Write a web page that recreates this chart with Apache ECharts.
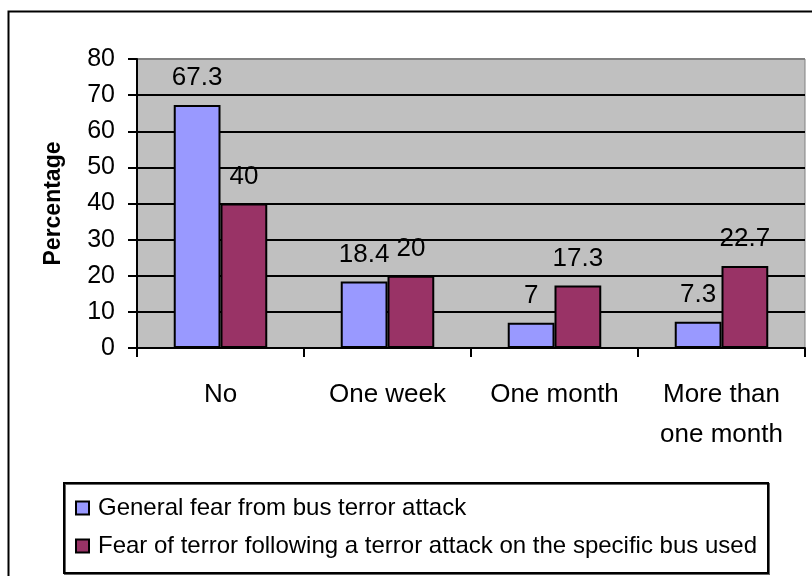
<!DOCTYPE html>
<html>
<head>
<meta charset="utf-8">
<script src="https://cdn.jsdelivr.net/npm/echarts@6/dist/echarts.min.js"></script>
<style>
  html, body { margin: 0; padding: 0; background: #fff; }
  #chart { width: 812px; height: 576px; }
</style>
</head>
<body>
<div id="chart"></div>
<script>
// Time after the attack during which fear persisted
const categories = ['No', 'One week', 'One month', 'More than\none month'];
const seriesNames = [
  'General fear from bus terror attack',
  'Fear of terror following a terror attack on the specific bus used'
];
const generalFear = [67.3, 18.4, 7, 7.3];
const specificBusFear = [40, 20, 17.3, 22.7];
const yTicks = [0, 10, 20, 30, 40, 50, 60, 70, 80];

const FONT = '"Liberation Sans", Arial, sans-serif';
const chart = echarts.init(document.getElementById('chart'), null, { renderer: 'canvas' });

const labelStyle = {
  show: true,
  position: 'top',
  distance: 14,
  color: '#000',
  fontFamily: FONT,
  fontSize: 26
};

chart.setOption({
  animation: false,
  backgroundColor: '#fff',
  grid: {
    left: 137, right: 7, top: 59, bottom: 228,
    show: true,
    backgroundColor: '#C0C0C0',
    borderColor: '#808080',
    borderWidth: 1
  },
  graphic: [
    // outer chart frame
    { type: 'rect', left: 6, top: 9, shape: { width: 900, height: 700 },
      style: { fill: 'none', stroke: '#000', lineWidth: 2 }, z: 0 },
    // legend box
    { type: 'rect', left: 63, top: 482, shape: { width: 704, height: 90 },
      style: { fill: '#fff', stroke: '#000', lineWidth: 2,
               shadowColor: 'rgba(0,0,0,0.6)', shadowOffsetX: 1, shadowOffsetY: 1 }, z: 1 }
  ],
  legend: {
    orient: 'vertical',
    left: 70,
    top: 491,
    itemGap: 14,
    itemWidth: 13,
    itemHeight: 13,
    z: 5,
    textStyle: { fontFamily: FONT, fontSize: 24, color: '#000', padding: [0, 0, 0, 4] },
    data: seriesNames.map(n => ({ name: n, icon: 'rect' }))
  },
  xAxis: {
    type: 'category',
    data: categories,
    axisLine: { show: true, lineStyle: { color: '#000', width: 2 } },
    axisTick: { show: true, length: 9, lineStyle: { color: '#000', width: 2 } },
    axisLabel: {
      color: '#000', fontFamily: FONT, fontSize: 26, margin: 27,
      lineHeight: 40, interval: 0
    }
  },
  yAxis: {
    type: 'value',
    min: 0, max: 80, interval: 10,
    name: 'Percentage',
    nameLocation: 'middle',
    nameGap: 72,
    nameTextStyle: { fontFamily: FONT, fontSize: 23, fontWeight: 'bold', color: '#000' },
    axisLine: { show: true, lineStyle: { color: '#000', width: 2 } },
    axisTick: { show: true, length: 9, lineStyle: { color: '#000', width: 2 } },
    axisLabel: {
      color: '#000', fontFamily: FONT, fontSize: 25, margin: 22,
      formatter: v => (yTicks.includes(v) ? String(v) : '')
    },
    splitLine: {
      show: true,
      lineStyle: { color: ['#000', '#000', '#000', '#000', '#000', '#000', '#000', '#000', '#808080'], width: 2 }
    }
  },
  series: [
    {
      name: seriesNames[0],
      type: 'bar',
      data: generalFear,
      barGap: '0%',
      barCategoryGap: '44%',
      itemStyle: { color: '#9999FF', borderColor: '#000', borderWidth: 2 },
      label: labelStyle
    },
    {
      name: seriesNames[1],
      type: 'bar',
      data: specificBusFear,
      itemStyle: { color: '#993366', borderColor: '#000', borderWidth: 2 },
      label: labelStyle
    }
  ]
});
</script>
</body>
</html>
